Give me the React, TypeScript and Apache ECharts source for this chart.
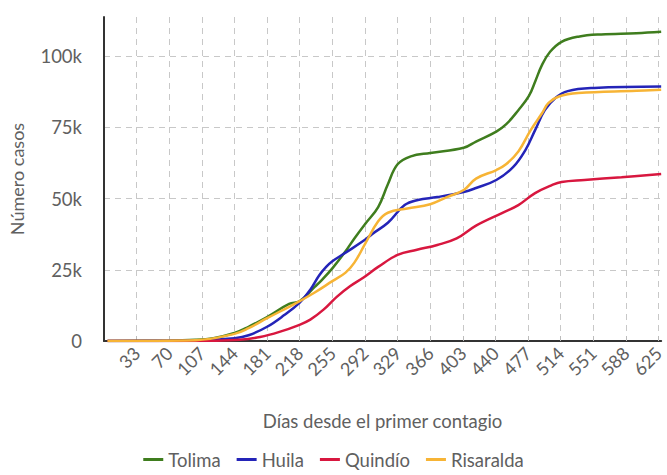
import React, { useEffect, useRef } from "react";
import * as echarts from "echarts";

// days since first contagion and cumulative cases
const tolimaDays = [0, 60, 100, 120, 144, 160, 181, 206, 218, 235, 243, 255, 270, 280, 292, 307, 318, 329, 344, 366, 404, 418, 441, 452, 466, 478, 485, 493, 502, 515, 534, 560, 600, 628];
const tolimaCases = [0, 100, 400, 1000, 2800, 5000, 8400, 13000, 14000, 19000, 21400, 25500, 31500, 36000, 41000, 47000, 55000, 62000, 64800, 66000, 67800, 70000, 73500, 76000, 81000, 86000, 91000, 97000, 101500, 105000, 106800, 107600, 108000, 108500];

const huilaDays = [0, 100, 144, 160, 181, 200, 218, 230, 240, 248, 255, 270, 292, 300, 318, 337, 352, 374, 404, 418, 441, 460, 474, 485, 496, 508, 522, 552, 628];
const huilaCases = [0, 200, 1000, 2000, 5000, 9000, 13500, 18000, 23000, 26000, 28000, 31000, 35500, 37500, 41500, 47700, 49500, 50500, 52300, 53700, 56500, 61000, 67000, 74000, 81000, 85300, 87700, 88800, 89300];

const quindioDays = [0, 120, 150, 173, 195, 217, 230, 245, 260, 275, 290, 307, 329, 351, 374, 396, 418, 448, 466, 485, 504, 515, 541, 583, 628];
const quindioCases = [0, 100, 400, 1400, 3200, 5600, 7500, 11000, 15500, 19200, 22200, 26000, 30200, 32000, 33700, 36000, 40500, 45000, 47700, 51900, 54700, 55800, 56500, 57500, 58600];

const risaraldaDays = [0, 100, 144, 160, 181, 206, 218, 235, 255, 270, 280, 292, 307, 318, 340, 366, 385, 404, 418, 441, 452, 466, 480, 493, 500, 512, 534, 600, 628];
const risaraldaCases = [0, 300, 2500, 4500, 8000, 12000, 14000, 17000, 21000, 24000, 27500, 34000, 42000, 45000, 46500, 48000, 50500, 53000, 57000, 60000, 62000, 66500, 74000, 80000, 83500, 85800, 87000, 87800, 88200];

const seriesNames = ["Tolima", "Huila", "Quindío", "Risaralda"];
const seriesColors = ["#3f7d1e", "#2424b8", "#d8173f", "#f7b435"];

// the axis starts 4 days before day 0; ticks every 37 days (33, 70, 107, ...)
const DAY_OFFSET = 4;
const TICK_INTERVAL = 37;
const X_MAX = 632;
const Y_MAX = 113700;

export default function App() {
  const ref = useRef<HTMLDivElement>(null);

  useEffect(() => {
    if (!ref.current) return;
    const chart = echarts.init(ref.current, undefined, { renderer: "svg" });
    const toPairs = (d: number[], v: number[]) => d.map((day, i) => [day + DAY_OFFSET, v[i]]);
    const datasets = [
      toPairs(tolimaDays, tolimaCases),
      toPairs(huilaDays, huilaCases),
      toPairs(quindioDays, quindioCases),
      toPairs(risaraldaDays, risaraldaCases),
    ];
    const font = "Lato, 'Noto Sans', sans-serif";
    const textColor = "#606060";
    chart.setOption({
      animation: false,
      textStyle: { fontFamily: font },
      grid: { left: 101, right: 0, top: 17, bottom: 134, containLabel: false },
      legend: {
        bottom: 1,
        left: "center",
        itemWidth: 20,
        itemHeight: 3,
        itemGap: 16,
        icon: "rect",
        textStyle: { fontSize: 18.5, color: textColor, fontFamily: font },
        data: seriesNames,
      },
      xAxis: {
        type: "value",
        min: 0,
        max: X_MAX,
        interval: TICK_INTERVAL,
        name: "Días desde el primer contagio",
        nameLocation: "middle",
        nameGap: 70,
        nameTextStyle: { fontSize: 18.5, color: textColor, fontFamily: font },
        axisLine: { lineStyle: { color: "#333", width: 2 } },
        axisTick: { show: true, inside: true, length: 5, lineStyle: { color: "#bbb" } },
        axisLabel: {
          rotate: 45,
          fontSize: 18,
          color: textColor,
          margin: 9,
          showMinLabel: false,
          showMaxLabel: false,
          formatter: (v: number) => String(Math.round(v - DAY_OFFSET)),
        },
        splitLine: {
          show: true,
          showMinLine: false,
          showMaxLine: false,
          lineStyle: { color: "#c8c8c8", type: [6, 5], width: 1 },
        },
      },
      yAxis: {
        type: "value",
        min: 0,
        max: Y_MAX,
        interval: 25000,
        name: "Número casos",
        nameLocation: "middle",
        nameGap: 78,
        nameTextStyle: { fontSize: 18, color: textColor, fontFamily: font },
        axisLine: { show: true, lineStyle: { color: "#333", width: 2 } },
        axisTick: { show: false },
        axisLabel: {
          fontSize: 18.5,
          color: textColor,
          margin: 22,
          showMaxLabel: false,
          formatter: (v: number) => (v === 0 ? "0" : v / 1000 + "k"),
        },
        splitLine: {
          show: true,
          showMinLine: false,
          showMaxLine: false,
          lineStyle: { color: "#c8c8c8", type: [6, 5], width: 1 },
        },
      },
      series: seriesNames.map((name, i) => ({
        name,
        type: "line",
        data: datasets[i],
        smooth: 0.4,
        showSymbol: false,
        symbol: "none",
        lineStyle: { color: seriesColors[i], width: 2.5 },
        itemStyle: { color: seriesColors[i] },
      })),
    });
    return () => chart.dispose();
  }, []);

  return (
    <div
      ref={ref}
      style={{ position: "fixed", left: 0, top: 0, width: 667, height: 475, background: "#fff" }}
    />
  );
}
